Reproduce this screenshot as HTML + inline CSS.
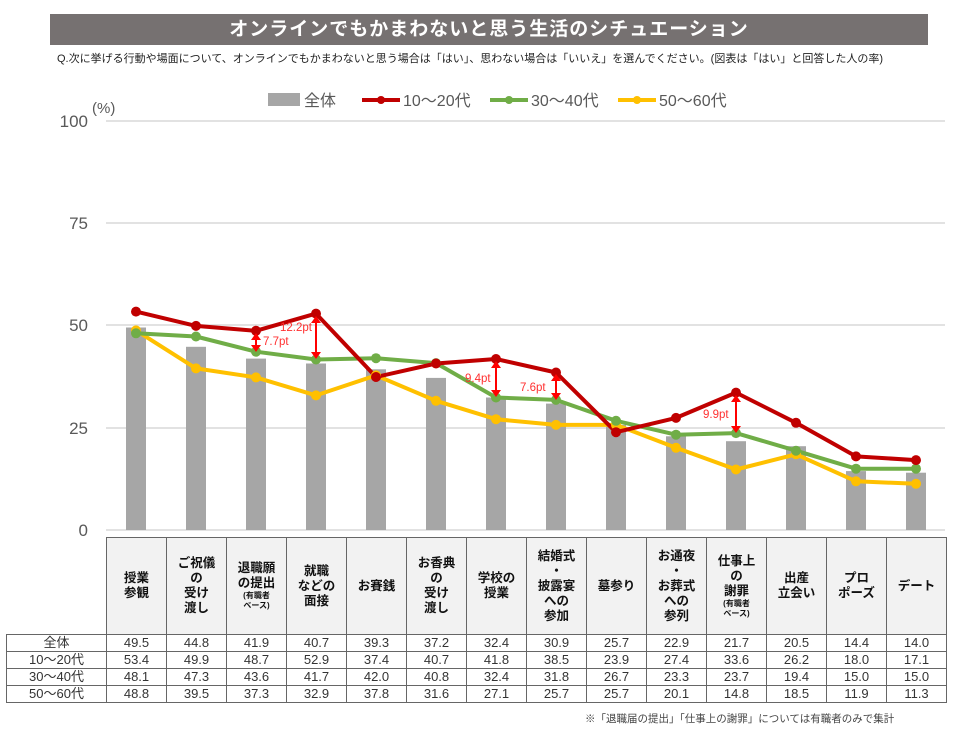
<!DOCTYPE html>
<html><head><meta charset="utf-8"><style>
body{margin:0;width:963px;height:735px;background:#fff;font-family:"Liberation Sans","Noto Sans CJK JP",sans-serif;position:relative;overflow:hidden}
.title{position:absolute;left:50px;top:14px;width:878px;height:31px;background:#767171;color:#fff;font-size:19px;font-weight:bold;text-align:center;line-height:31px;letter-spacing:1px}
.q{position:absolute;left:57px;top:50px;font-size:11px;color:#222;white-space:nowrap}
table{position:absolute;left:6px;top:537px;border-collapse:collapse;table-layout:fixed}
td{border:1px solid #666;text-align:center;padding:0;font-size:13px;color:#333;height:16px;line-height:16px}
tr.h td{height:96px;background:#f2f2f2;font-weight:bold;font-size:12.5px;line-height:15px;color:#111}
tr.h td.e{background:#fff;border:none;border-right:1px solid #666;border-bottom:1px solid #666}
small{font-size:8px;line-height:10px;display:block}
.note{position:absolute;left:585px;top:711px;font-size:10.5px;color:#444}
</style></head><body>
<div class="title">オンラインでもかまわないと思う生活のシチュエーション</div>
<div class="q">Q.次に挙げる行動や場面について、オンラインでもかまわないと思う場合は「はい」、思わない場合は「いいえ」を選んでください。(図表は「はい」と回答した人の率)</div>
<svg width="963" height="537" style="position:absolute;left:0;top:0" font-family="Liberation Sans, Noto Sans CJK JP, sans-serif">
<g stroke="#d9d9d9" stroke-width="1.5">
<line x1="106" y1="121" x2="945" y2="121"/><line x1="106" y1="223" x2="945" y2="223"/><line x1="106" y1="325" x2="945" y2="325"/><line x1="106" y1="428" x2="945" y2="428"/><line x1="106" y1="530" x2="945" y2="530"/>
</g>
<g font-size="17" fill="#595959" text-anchor="end">
<text x="88" y="127">100</text><text x="88" y="229">75</text><text x="88" y="331">50</text><text x="88" y="434">25</text><text x="88" y="536">0</text>
</g>
<text x="92" y="113" font-size="15" fill="#595959">(%)</text>
<g font-size="16" fill="#595959">
<rect x="268" y="93" width="32" height="13" fill="#a6a6a6"/><text x="304" y="106">全体</text>
<line x1="362" y1="100" x2="400" y2="100" stroke="#c00000" stroke-width="4"/><circle cx="381" cy="100" r="4" fill="#c00000"/><text x="403" y="106">10～20代</text>
<line x1="490" y1="100" x2="528" y2="100" stroke="#70ad47" stroke-width="4"/><circle cx="509" cy="100" r="4" fill="#70ad47"/><text x="531" y="106">30～40代</text>
<line x1="618" y1="100" x2="656" y2="100" stroke="#ffc000" stroke-width="4"/><circle cx="637" cy="100" r="4" fill="#ffc000"/><text x="659" y="106">50～60代</text>
</g>
<g fill="#a6a6a6">
<rect x="126" y="327.5" width="20" height="202.5"/><rect x="186" y="346.8" width="20" height="183.2"/><rect x="246" y="358.6" width="20" height="171.4"/><rect x="306" y="363.5" width="20" height="166.5"/><rect x="366" y="369.3" width="20" height="160.7"/><rect x="426" y="377.9" width="20" height="152.1"/><rect x="486" y="397.5" width="20" height="132.5"/><rect x="546" y="403.6" width="20" height="126.4"/><rect x="606" y="424.9" width="20" height="105.1"/><rect x="666" y="436.3" width="20" height="93.7"/><rect x="726" y="441.2" width="20" height="88.8"/><rect x="786" y="446.2" width="20" height="83.8"/><rect x="846" y="471.1" width="20" height="58.9"/><rect x="906" y="472.7" width="20" height="57.3"/>
</g>
<g fill="none" stroke-width="4" stroke-linejoin="round">
<polyline stroke="#ffc000" points="136,330.4 196,368.4 256,377.4 316,395.4 376,375.4 436,400.8 496,419.2 556,424.9 616,424.9 676,447.8 736,469.5 796,454.3 856,481.3 916,483.8"/>
<polyline stroke="#70ad47" points="136,333.3 196,336.5 256,351.7 316,359.5 376,358.2 436,363.1 496,397.5 556,399.9 616,420.8 676,434.7 736,433.1 796,450.7 856,468.7 916,468.7"/>
<polyline stroke="#c00000" points="136,311.6 196,325.9 256,330.8 316,313.6 376,377 436,363.5 496,359 556,372.5 616,432.2 676,417.9 736,392.6 796,422.8 856,456.4 916,460.1"/>
</g>
<g fill="#ffc000"><circle cx="136" cy="330.4" r="5"/><circle cx="196" cy="368.4" r="5"/><circle cx="256" cy="377.4" r="5"/><circle cx="316" cy="395.4" r="5"/><circle cx="376" cy="375.4" r="5"/><circle cx="436" cy="400.8" r="5"/><circle cx="496" cy="419.2" r="5"/><circle cx="556" cy="424.9" r="5"/><circle cx="616" cy="424.9" r="5"/><circle cx="676" cy="447.8" r="5"/><circle cx="736" cy="469.5" r="5"/><circle cx="796" cy="454.3" r="5"/><circle cx="856" cy="481.3" r="5"/><circle cx="916" cy="483.8" r="5"/></g>
<g fill="#70ad47"><circle cx="136" cy="333.3" r="5"/><circle cx="196" cy="336.5" r="5"/><circle cx="256" cy="351.7" r="5"/><circle cx="316" cy="359.5" r="5"/><circle cx="376" cy="358.2" r="5"/><circle cx="436" cy="363.1" r="5"/><circle cx="496" cy="397.5" r="5"/><circle cx="556" cy="399.9" r="5"/><circle cx="616" cy="420.8" r="5"/><circle cx="676" cy="434.7" r="5"/><circle cx="736" cy="433.1" r="5"/><circle cx="796" cy="450.7" r="5"/><circle cx="856" cy="468.7" r="5"/><circle cx="916" cy="468.7" r="5"/></g>
<g fill="#c00000"><circle cx="136" cy="311.6" r="5"/><circle cx="196" cy="325.9" r="5"/><circle cx="256" cy="330.8" r="5"/><circle cx="316" cy="313.6" r="5"/><circle cx="376" cy="377" r="5"/><circle cx="436" cy="363.5" r="5"/><circle cx="496" cy="359" r="5"/><circle cx="556" cy="372.5" r="5"/><circle cx="616" cy="432.2" r="5"/><circle cx="676" cy="417.9" r="5"/><circle cx="736" cy="392.6" r="5"/><circle cx="796" cy="422.8" r="5"/><circle cx="856" cy="456.4" r="5"/><circle cx="916" cy="460.1" r="5"/></g>
<g stroke="#ff0000" stroke-width="2" fill="#ff0000">
<line x1="256" y1="336" x2="256" y2="348"/><path d="M251,340 L256,333 L261,340Z M251,345 L256,352 L261,345Z" stroke="none"/>
<line x1="316" y1="319" x2="316" y2="355"/><path d="M311,323 L316,316 L321,323Z M311,352 L316,359 L321,352Z" stroke="none"/>
<line x1="496" y1="364" x2="496" y2="393"/><path d="M491,368 L496,361 L501,368Z M491,390 L496,397 L501,390Z" stroke="none"/>
<line x1="556" y1="377" x2="556" y2="396"/><path d="M551,381 L556,374 L561,381Z M551,393 L556,400 L561,393Z" stroke="none"/>
<line x1="736" y1="398" x2="736" y2="429"/><path d="M731,402 L736,395 L741,402Z M731,426 L736,433 L741,426Z" stroke="none"/>
</g>
<g font-size="11.5" fill="#ff3030">
<text x="263" y="345">7.7pt</text><text x="280" y="331">12.2pt</text><text x="465" y="382">9.4pt</text><text x="520" y="391">7.6pt</text><text x="703" y="418">9.9pt</text>
</g>
</svg>
<table>
<colgroup><col style="width:100px"><col style="width:60px"><col style="width:60px"><col style="width:60px"><col style="width:60px"><col style="width:60px"><col style="width:60px"><col style="width:60px"><col style="width:60px"><col style="width:60px"><col style="width:60px"><col style="width:60px"><col style="width:60px"><col style="width:60px"><col style="width:60px"></colgroup>
<tr class="h"><td class="e"></td><td>授業<br>参観</td><td>ご祝儀<br>の<br>受け<br>渡し</td><td>退職願<br>の提出<small>(有職者<br>ベース)</small></td><td>就職<br>などの<br>面接</td><td>お賽銭</td><td>お香典<br>の<br>受け<br>渡し</td><td>学校の<br>授業</td><td>結婚式<br>・<br>披露宴<br>への<br>参加</td><td>墓参り</td><td>お通夜<br>・<br>お葬式<br>への<br>参列</td><td>仕事上<br>の<br>謝罪<small>(有職者<br>ベース)</small></td><td>出産<br>立会い</td><td>プロ<br>ポーズ</td><td>デート</td></tr>
<tr><td>全体</td><td>49.5</td><td>44.8</td><td>41.9</td><td>40.7</td><td>39.3</td><td>37.2</td><td>32.4</td><td>30.9</td><td>25.7</td><td>22.9</td><td>21.7</td><td>20.5</td><td>14.4</td><td>14.0</td></tr>
<tr><td>10～20代</td><td>53.4</td><td>49.9</td><td>48.7</td><td>52.9</td><td>37.4</td><td>40.7</td><td>41.8</td><td>38.5</td><td>23.9</td><td>27.4</td><td>33.6</td><td>26.2</td><td>18.0</td><td>17.1</td></tr>
<tr><td>30～40代</td><td>48.1</td><td>47.3</td><td>43.6</td><td>41.7</td><td>42.0</td><td>40.8</td><td>32.4</td><td>31.8</td><td>26.7</td><td>23.3</td><td>23.7</td><td>19.4</td><td>15.0</td><td>15.0</td></tr>
<tr><td>50～60代</td><td>48.8</td><td>39.5</td><td>37.3</td><td>32.9</td><td>37.8</td><td>31.6</td><td>27.1</td><td>25.7</td><td>25.7</td><td>20.1</td><td>14.8</td><td>18.5</td><td>11.9</td><td>11.3</td></tr>
</table>
<div class="note">※「退職届の提出」「仕事上の謝罪」については有職者のみで集計</div>
</body></html>
